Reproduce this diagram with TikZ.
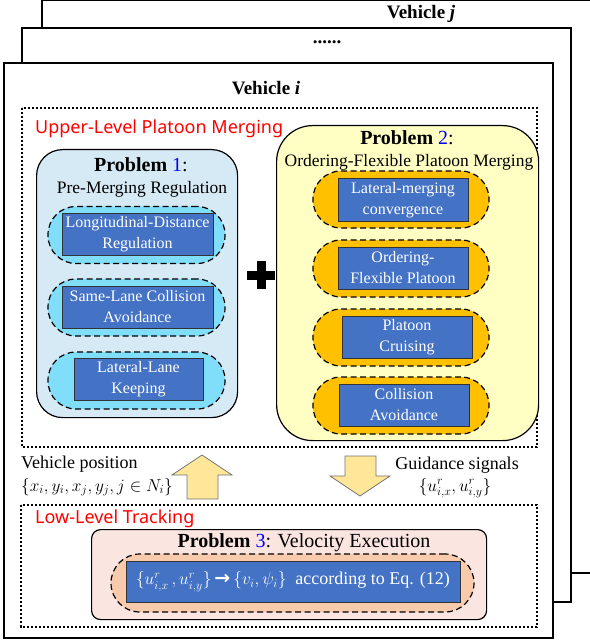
\documentclass[tikz,border=0pt]{standalone}
\usepackage{amsmath,amssymb}
\usepackage{fontspec}
\setmainfont{Liberation Serif}
\newfontfamily\headfont{Noto Sans}
\newfontfamily\symfont{DejaVu Sans}
\usetikzlibrary{positioning, calc}
\definecolor{probblue}{RGB}{214,234,246}
\definecolor{ovalcyan}{RGB}{128,222,250}
\definecolor{taskblue}{RGB}{68,114,196}
\definecolor{probyel}{RGB}{255,255,196}
\definecolor{ovalorange}{RGB}{255,192,0}
\definecolor{probpink}{RGB}{251,229,225}
\definecolor{ovalsalmon}{RGB}{248,203,173}
\definecolor{blockyel}{RGB}{255,230,153}

\begin{document}
\begin{tikzpicture}[x=1pt, y=-1pt,
  frame/.style={draw, line width=2.2pt, fill=white},
  level/.style={draw, line width=2pt, dash pattern=on 2.2pt off 1.8pt},
  probbox/.style={draw, line width=1.2pt, anchor=north west, inner sep=0pt},
  oval/.style={draw, line width=1.2pt, dash pattern=on 6pt off 3.5pt,
    minimum height=57pt, rounded corners=28pt, inner sep=0pt},
  task/.style={draw=black!80, line width=1pt, fill=taskblue, text=white,
    align=center, minimum height=42pt, inner sep=0pt,
    font=\fontsize{16}{21}\selectfont},
  blockarrow/.style={draw=black!55, line width=0.8pt, fill=blockyel},
  redhead/.style={text=red, anchor=west, inner sep=0pt,
    font=\headfont\fontsize{18}{20}\selectfont},
  title/.style={inner sep=0pt, font=\bfseries\fontsize{19}{22}\selectfont},
  probtitle/.style={inner sep=0pt, font=\fontsize{20}{23}\selectfont},
  sub/.style={inner sep=0pt, font=\fontsize{17.5}{20}\selectfont},
  signal/.style={inner sep=0pt, font=\fontsize{18}{21}\selectfont}]
  \useasboundingbox (0,0) rectangle (589,644);

  % stacked vehicle frames
  \draw[frame] (42,0) rectangle (600,573);
  \draw[frame] (22,28) rectangle (571,602);
  \draw[frame] (4,63) rectangle (553,638);
  \node[title] (vehj) at (421,14) {Vehicle \textit{j}};
  \node[title] (dots) at (327,42) {......};
  \node[title] (vehi) at (266,88) {Vehicle \textit{i}};

  % upper level
  \draw[level] (22,108) rectangle (537,447);
  \node[redhead] (upper) at (35,129) {Upper-Level Platoon Merging};

  \node[probbox, fill=probblue, rounded corners=26pt,
    minimum width=201pt, minimum height=268pt] (prob1) at (36,149) {};
  \node[probtitle] (p1title) at (141,165)
    {\textbf{Problem} \textcolor{blue}{1}:};
  \node[sub] (p1sub) at (142,189) {Pre-Merging Regulation};
  \node[oval, fill=ovalcyan, minimum width=177pt] (o11) at (136.5,235) {};
  \node[oval, fill=ovalcyan, minimum width=177pt] (o12) at (136.5,307.5) {};
  \node[oval, fill=ovalcyan, minimum width=177pt] (o13) at (136.5,380.5) {};
  \node[task, minimum width=151pt] (t11) at (137.5,234)
    {Longitudinal-Distance\\Regulation};
  \node[task, minimum width=151pt] (t12) at (137.5,307)
    {Same-Lane Collision\\Avoidance};
  \node[task, minimum width=129pt] (t13) at (138.5,379)
    {Lateral-Lane\\Keeping};

  % plus sign
  \fill (247,270.5) rectangle (275,279.5);
  \fill (256.5,261) rectangle (265.5,289);

  \node[probbox, fill=probyel, rounded corners=36pt,
    minimum width=262pt, minimum height=315pt] (prob2) at (276,125) {};
  \node[probtitle] (p2title) at (407,138)
    {\textbf{Problem} \textcolor{blue}{2}:};
  \node[sub] (p2sub) at (409,162) {Ordering-Flexible Platoon Merging};
  \node[oval, fill=ovalorange, minimum width=176pt] (o21) at (401,199.5) {};
  \node[oval, fill=ovalorange, minimum width=176pt] (o22) at (401,268.5) {};
  \node[oval, fill=ovalorange, minimum width=176pt] (o23) at (401,337.5) {};
  \node[oval, fill=ovalorange, minimum width=176pt] (o24) at (401,405.5) {};
  \node[task, minimum width=130pt] (t21) at (403,200)
    {Lateral-merging\\convergence};
  \node[task, minimum width=130pt] (t22) at (403,268)
    {Ordering-\\Flexible Platoon};
  \node[task, minimum width=130pt] (t23) at (407,337)
    {Platoon\\Cruising};
  \node[task, minimum width=130pt] (t24) at (404,405)
    {Collision\\Avoidance};

  % exchange between the levels
  \draw[blockarrow] (202,455) -- (232,475) -- (218,475) -- (218,499)
    -- (187,499) -- (187,475) -- (172,475) -- cycle;
  \draw[blockarrow] (345,456) -- (376,456) -- (376,476) -- (390,476)
    -- (360,496) -- (330,476) -- (345,476) -- cycle;
  \node[signal, anchor=west] (vpos) at (21,464) {Vehicle position};
  \node[signal, anchor=west] (vset) at (21,487)
    {$\{x_i, y_i, x_j, y_j, j \in N_i\}$};
  \node[signal] (guide) at (457,465) {Guidance signals};
  \node[signal] (gset) at (455,488) {$\{u^r_{i,x}, u^r_{i,y}\}$};

  % low level
  \draw[level] (21,505) rectangle (537,627);
  \node[redhead] (lower) at (35,519) {Low-Level Tracking};
  \node[probbox, fill=probpink, rounded corners=9pt,
    minimum width=395pt, minimum height=90pt] (prob3) at (91,529) {};
  \node[probtitle] (p3title) at (304,543)
    {\textbf{Problem} \textcolor{blue}{3}: Velocity Execution};
  \node[oval, fill=ovalsalmon, minimum width=363pt, minimum height=58pt,
    rounded corners=29pt] (o31) at (292.5,583) {};
  \node[task, minimum width=334pt, minimum height=41pt,
    font=\fontsize{18}{20}\selectfont] (t31) at (293,581.5)
    {$\{u^r_{i,x}\,, u^r_{i,y}\}$\,{\symfont\bfseries\fontsize{19}{19}\selectfont →}\,$\{v_i, \psi_i\}$~ according to Eq. (12)};
\end{tikzpicture}
\end{document}
